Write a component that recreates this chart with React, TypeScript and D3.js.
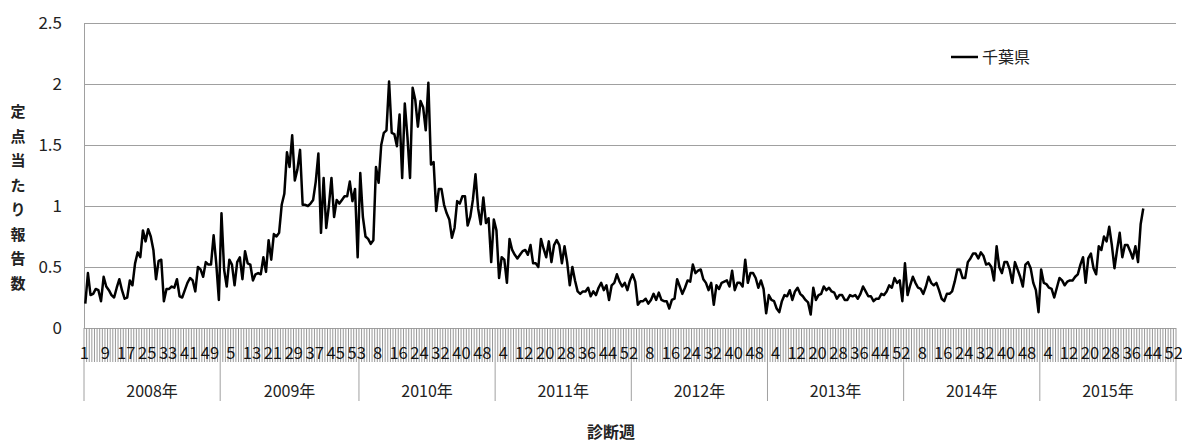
import React from 'react';
import * as d3 from 'd3';

// weekly reports per sentinel site, Chiba prefecture
const years = ['2008年', '2009年', '2010年', '2011年', '2012年', '2013年', '2014年', '2015年'];
const weeksPerYear = [52, 53, 52, 52, 52, 52, 52, 52];

const v2008 = [0.20, 0.45, 0.27, 0.28, 0.32, 0.31, 0.22, 0.42, 0.34, 0.31, 0.27, 0.25, 0.33, 0.40, 0.31, 0.24, 0.25, 0.39, 0.35, 0.53,
  0.62, 0.58, 0.80, 0.71, 0.81, 0.75, 0.64, 0.40, 0.55, 0.56, 0.22, 0.32, 0.32, 0.34, 0.33, 0.40, 0.26, 0.25, 0.31, 0.37,
  0.41, 0.39, 0.30, 0.50, 0.48, 0.42, 0.54, 0.52, 0.52, 0.76, 0.53, 0.23];
const v2009 = [0.94, 0.48, 0.34, 0.56, 0.52, 0.35, 0.54, 0.58, 0.40, 0.63, 0.53, 0.52, 0.39, 0.44, 0.45, 0.44, 0.58, 0.46, 0.72, 0.56,
  0.77, 0.75, 0.78, 1.01, 1.10, 1.44, 1.32, 1.58, 1.21, 1.30, 1.46, 1.01, 1.01, 1.00, 1.02, 1.05, 1.20, 1.43, 0.78, 1.23,
  0.82, 1.00, 1.23, 0.91, 1.05, 1.02, 1.05, 1.08, 1.08, 1.20, 1.04, 1.14, 0.58];
const v2010 = [1.27, 0.91, 0.75, 0.73, 0.69, 0.72, 1.32, 1.19, 1.50, 1.60, 1.62, 2.02, 1.60, 1.59, 1.49, 1.75, 1.23, 1.84, 1.57, 1.23,
  1.97, 1.87, 1.65, 1.86, 1.81, 1.62, 2.01, 1.34, 1.36, 0.96, 1.14, 1.14, 1.01, 0.94, 0.89, 0.74, 0.82, 1.04, 1.02, 1.08,
  1.08, 0.84, 0.91, 1.05, 1.26, 0.98, 0.85, 1.07, 0.86, 0.90, 0.54, 0.89];
const v2011 = [0.80, 0.41, 0.58, 0.56, 0.37, 0.73, 0.64, 0.60, 0.57, 0.60, 0.63, 0.64, 0.60, 0.68, 0.53, 0.53, 0.50, 0.73, 0.65, 0.58,
  0.71, 0.54, 0.68, 0.72, 0.68, 0.53, 0.67, 0.54, 0.35, 0.50, 0.39, 0.30, 0.28, 0.30, 0.30, 0.33, 0.26, 0.30, 0.27, 0.33,
  0.37, 0.31, 0.35, 0.23, 0.35, 0.37, 0.44, 0.38, 0.34, 0.37, 0.31, 0.39];
const v2012 = [0.44, 0.38, 0.19, 0.22, 0.22, 0.24, 0.20, 0.23, 0.28, 0.23, 0.29, 0.23, 0.22, 0.22, 0.16, 0.23, 0.24, 0.40, 0.34, 0.28,
  0.33, 0.39, 0.38, 0.52, 0.45, 0.47, 0.48, 0.40, 0.37, 0.31, 0.37, 0.19, 0.35, 0.32, 0.37, 0.38, 0.39, 0.34, 0.47, 0.31,
  0.37, 0.37, 0.34, 0.56, 0.37, 0.45, 0.45, 0.41, 0.33, 0.39, 0.32, 0.12];
const v2013 = [0.27, 0.23, 0.22, 0.16, 0.13, 0.22, 0.27, 0.26, 0.31, 0.23, 0.30, 0.33, 0.28, 0.26, 0.23, 0.21, 0.11, 0.33, 0.23, 0.27,
  0.28, 0.34, 0.31, 0.33, 0.30, 0.29, 0.24, 0.27, 0.27, 0.23, 0.23, 0.27, 0.26, 0.27, 0.24, 0.28, 0.34, 0.30, 0.26, 0.26,
  0.22, 0.24, 0.24, 0.28, 0.27, 0.30, 0.35, 0.33, 0.41, 0.37, 0.39, 0.22];
const v2014 = [0.53, 0.27, 0.35, 0.42, 0.37, 0.33, 0.32, 0.28, 0.34, 0.42, 0.37, 0.35, 0.37, 0.31, 0.24, 0.22, 0.28, 0.28, 0.30, 0.38,
  0.48, 0.48, 0.41, 0.41, 0.54, 0.57, 0.61, 0.61, 0.57, 0.62, 0.59, 0.52, 0.53, 0.50, 0.39, 0.67, 0.50, 0.45, 0.54, 0.54,
  0.48, 0.37, 0.54, 0.48, 0.42, 0.34, 0.52, 0.54, 0.49, 0.37, 0.31, 0.13];
const v2015 = [0.48, 0.37, 0.36, 0.33, 0.32, 0.25, 0.33, 0.41, 0.39, 0.35, 0.38, 0.39, 0.39, 0.42, 0.44, 0.52, 0.58, 0.37, 0.57, 0.61,
  0.49, 0.44, 0.67, 0.64, 0.75, 0.71, 0.83, 0.68, 0.49, 0.64, 0.78, 0.58, 0.68, 0.68, 0.63, 0.57, 0.67, 0.54, 0.85, 0.98];

const seriesName = '千葉県';
const yTicks = [0, 0.5, 1, 1.5, 2, 2.5];
const yTitle = '定点当たり報告数';
const xTitle = '診断週';

const FONT = '"Noto Sans CJK JP", "Noto Sans", sans-serif';

export default function App() {
  const width = 1182, height = 443;
  const left = 84, right = 1176, top = 23, bottom = 328;

  const cats = years.flatMap((yr, i) =>
    d3.range(1, weeksPerYear[i] + 1).map(w => ({ year: yr, week: w, key: yr + '-' + w })));
  const values = [v2008, v2009, v2010, v2011, v2012, v2013, v2014, v2015].flat();

  const x = d3.scaleBand().domain(cats.map(c => c.key)).range([left, right]).paddingInner(0).paddingOuter(0);
  const y = d3.scaleLinear().domain([0, 2.5]).range([bottom, top]);
  const bw = x.bandwidth();
  const cx = (i) => x(cats[i].key) + bw / 2;

  const line = d3.line().x((d, i) => cx(i)).y(d => y(d));

  const boundaries = cats.map(c => x(c.key)).concat([right]);
  let start = 0;
  const yearSpans = years.map((yr, i) => {
    const s = start;
    start += weeksPerYear[i];
    return { yr, x0: x(cats[s].key), x1: x(cats[start - 1].key) + bw };
  });

  return (
    <svg width={width} height={height} style={{ position: 'absolute', left: 0, top: 0, background: '#fff' }}>
      {/* grid */}
      {yTicks.map(t => (
        <line key={t} x1={left} x2={right} y1={Math.round(y(t)) + 0.5} y2={Math.round(y(t)) + 0.5}
          stroke="#a0a0a0" strokeWidth={1} />
      ))}
      <line x1={left + 0.5} x2={left + 0.5} y1={top} y2={bottom} stroke="#a0a0a0" />
      {yTicks.map(t => (
        <text key={'l' + t} x={62} y={y(t)} dy="0.35em" textAnchor="end" fontFamily={FONT} fontSize={17} fill="#222">
          {t}
        </text>
      ))}

      {/* category ticks */}
      {boundaries.map((b, i) => (
        <line key={'t' + i} x1={b} x2={b} y1={bottom} y2={362} stroke="#999" strokeWidth={1} />
      ))}
      {cats.map((c, i) => i % 8 === 0 ? (
        <text key={'w' + i} x={cx(i) - 1} y={359} textAnchor="middle" fontFamily={FONT} fontSize={16.5} fill="#111">
          {c.week}
        </text>
      ) : null)}
      {yearSpans.map((s, i) => (
        <g key={'y' + i}>
          <line x1={s.x0} x2={s.x0} y1={362} y2={401} stroke="#a0a0a0" />
          <text x={(s.x0 + s.x1) / 2} y={397} textAnchor="middle" fontFamily={FONT} fontSize={16} fill="#222">{s.yr}</text>
        </g>
      ))}
      <line x1={right} x2={right} y1={362} y2={401} stroke="#a0a0a0" />

      {/* series */}
      <path d={line(values)} fill="none" stroke="#000" strokeWidth={2.5} strokeLinejoin="round" />

      {/* legend */}
      <line x1={951} x2={978} y1={57} y2={57} stroke="#000" strokeWidth={2.5} />
      <text x={982} y={57} dy="0.35em" fontFamily={FONT} fontSize={16} fill="#222">{seriesName}</text>

      {/* titles */}
      <text x={611} y={438} textAnchor="middle" fontFamily={FONT} fontSize={16} fontWeight="bold" fill="#222">{xTitle}</text>
      <text fontFamily={FONT} fontSize={15} fontWeight="bold" fill="#222" textAnchor="middle">
        {yTitle.split('').map((ch, i) => (
          <tspan key={i} x={18} y={117 + i * 24.5}>{ch}</tspan>
        ))}
      </text>
    </svg>
  );
}
